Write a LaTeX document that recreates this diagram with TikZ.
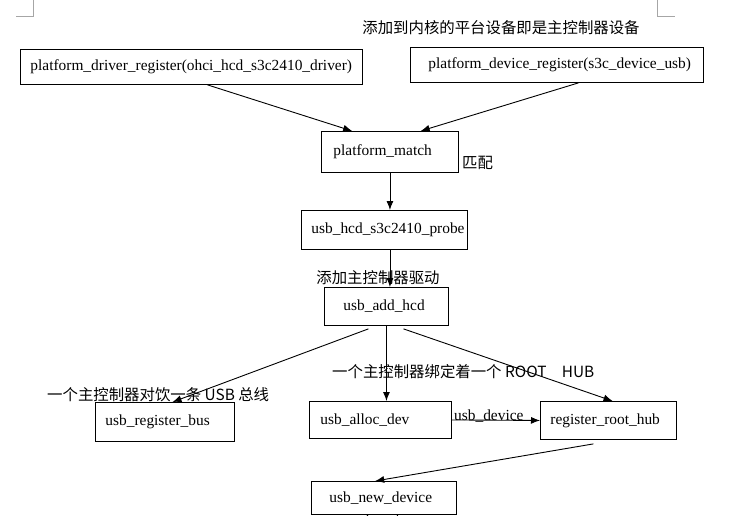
\documentclass[tikz,border=0pt]{standalone}
\usepackage{fontspec}
\setmainfont{Liberation Serif}
\newfontfamily\cjk{Noto Sans CJK SC}
\usetikzlibrary{arrows.meta,calc}
\begin{document}
\begin{tikzpicture}[x=1pt,y=-1pt,
  box/.style={draw, line width=0.9pt, anchor=north west, inner xsep=0pt, inner ysep=0pt,
              align=left, font=\fontsize{15.4}{18}\selectfont},
  lbl/.style={font=\cjk\fontsize{15.4}{18}\selectfont, inner sep=0pt},
  ser/.style={font=\fontsize{15.4}{18}\selectfont, inner sep=0pt},
  arr/.style={line width=0.9pt, -{Latex[length=9pt,width=7pt]}},
  plain/.style={line width=0.9pt},
  cornermark/.style={draw=black!35, line width=0.8pt}]
\fill[white] (0,0) rectangle (742,516);
\useasboundingbox (0,0) rectangle (742,516);
% page corner marks
\draw[cornermark] (33,0) -- (33,16) -- (16,16);
\draw[cornermark] (657,0) -- (657,16) -- (675,16);
% boxes
\node[box, text width=342pt, minimum height=35pt] (A) at (20,49) {\hspace*{10pt}platform\_driver\_register(ohci\_hcd\_s3c2410\_driver)};
\node[box, text width=293pt, minimum height=35pt] (B) at (410,47) {\hspace*{18pt}platform\_device\_register(s3c\_device\_usb)};
\node[box, text width=137pt, minimum height=41pt] (C) at (321,131) {\hspace*{12pt}platform\_match};
\node[box, text width=166pt, minimum height=39pt] (D) at (301,210) {\hspace*{10pt}usb\_hcd\_s3c2410\_probe};
\node[box, text width=124pt, minimum height=38pt] (E) at (324,287) {\hspace*{19pt}usb\_add\_hcd};
\node[box, text width=139pt, minimum height=39pt] (F) at (95,402) {\hspace*{10pt}usb\_register\_bus};
\node[box, text width=142pt, minimum height=37pt] (G) at (309,401) {\hspace*{11pt}usb\_alloc\_dev};
\node[box, text width=136pt, minimum height=38pt] (H) at (540,401) {\hspace*{10pt}register\_root\_hub};
\node[box, text width=145pt, minimum height=33pt] (I) at (311,481) {\hspace*{18pt}usb\_new\_device};
% labels
\node[lbl] (t1) at (501,28) {添加到内核的平台设备即是主控制器设备};
\node[lbl, anchor=west] (t2) at (462,163) {匹配};
% connectors
\draw[arr] ($(A.south west)!0.547!(A.south east)$) -- ($(C.north west)!0.226!(C.north east)$);
\draw[arr] ($(B.south west)!0.573!(B.south east)$) -- ($(C.north west)!0.723!(C.north east)$);
\draw[arr] (C.south) -- (C.south |- D.north);
\draw[arr] (C.south |- D.south) -- (C.south |- E.north);
\draw[arr] ($(E.south west)!0.355!(E.south east)+(0,3)$) -- ($(F.north west)!0.554!(F.north east)$);
\draw[arr] (E.south) -- (E.south |- G.north);
\draw[arr] ($(E.south west)!0.637!(E.south east)+(0,3)$) -- ($(H.north west)!0.53!(H.north east)$);
\draw[arr] (G.east) -- (H.west);
\draw[arr] ($(H.south west)!0.39!(H.south east)+(0,4)$) -- ($(I.north west)!0.44!(I.north east)$);
\draw[plain] ($(I.south west)!0.39!(I.south east)$) -- ++(-3,4);
\draw[plain] ($(I.south west)!0.59!(I.south east)$) -- ++(2,4);
% labels over connectors
\node[lbl] (t3) at (378,278) {添加主控制器驱动};
\node[lbl, anchor=west] (t4) at (47,395) {一个主控制器对饮一条 USB 总线};
\node[lbl, anchor=west] (t5) at (332,372) {一个主控制器绑定着一个 ROOT\hspace{1em}HUB};
\node[ser, anchor=west] (t6) at (454,416) {usb\_device};
\end{tikzpicture}
\end{document}
